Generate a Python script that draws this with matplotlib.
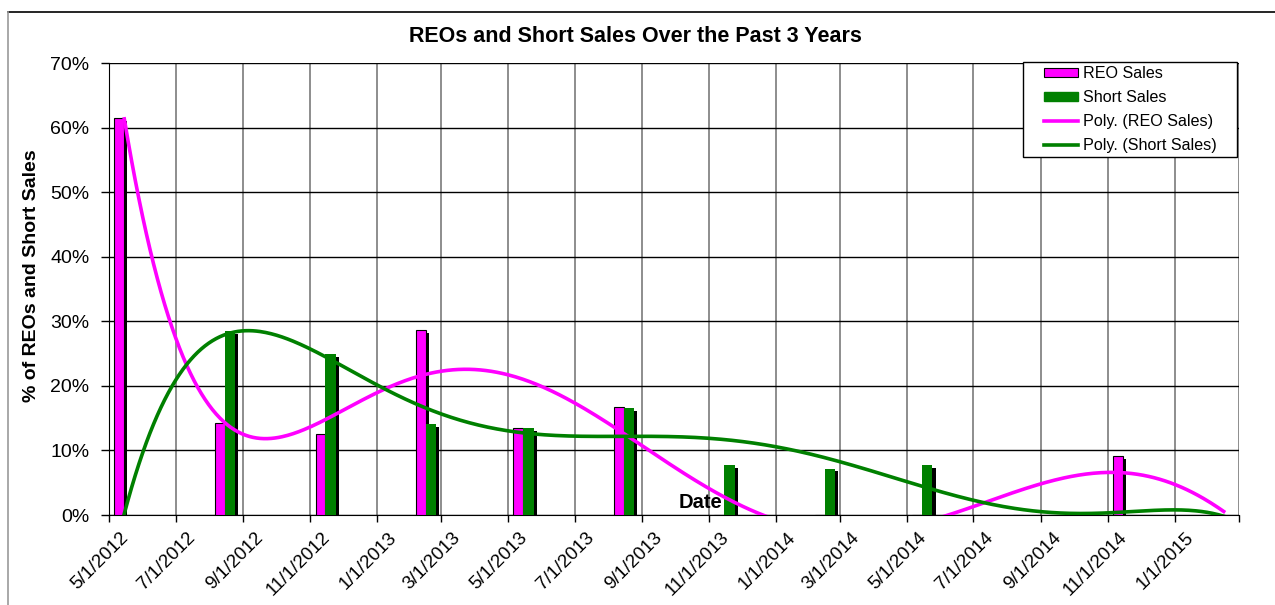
import numpy as np
import pandas as pd
import matplotlib
matplotlib.use("Agg")
import matplotlib.pyplot as plt
import matplotlib.dates as mdates
from matplotlib.lines import Line2D
from matplotlib.patches import Patch, Rectangle
from matplotlib.ticker import PercentFormatter
from matplotlib.transforms import ScaledTranslation

plt.rcParams["font.family"] = ["Liberation Sans", "DejaVu Sans"]
MAGENTA = "#FF00FF"; GREEN = "#008000"; GRID_V = "#7a7a7a"

# quarterly observations (fractions of sales)
dates = ["5/1/2012", "8/1/2012", "11/1/2012", "2/1/2013", "5/1/2013", "8/1/2013",
         "11/1/2013", "2/1/2014", "5/1/2014", "8/1/2014", "11/1/2014", "2/1/2015"]
reo_sales = [0.615, 0.142, 0.125, 0.286, 0.134, 0.167, 0.0, 0.0, 0.0, 0.0, 0.091, 0.0]
short_sales = [0.0, 0.285, 0.249, 0.141, 0.134, 0.165, 0.078, 0.072, 0.078, 0.0, 0.0, 0.0]
tick_dates = ["5/1/2012", "7/1/2012", "9/1/2012", "11/1/2012", "1/1/2013", "3/1/2013",
              "5/1/2013", "7/1/2013", "9/1/2013", "11/1/2013", "1/1/2014", "3/1/2014",
              "5/1/2014", "7/1/2014", "9/1/2014", "11/1/2014", "1/1/2015"]
axis_end = "3/1/2015"

t = mdates.date2num(pd.to_datetime(dates, format="%m/%d/%Y"))
ticks = mdates.date2num(pd.to_datetime(tick_dates, format="%m/%d/%Y"))
x_end = mdates.date2num(pd.to_datetime(axis_end, format="%m/%d/%Y"))
SLOT = 14  # bars sit mid-month on the date axis
reo = np.array(reo_sales); short = np.array(short_sales)

fig = plt.figure(figsize=(12.75, 6.05), dpi=100)
ax = fig.add_axes([109/1275, 1 - 515/605, 1130/1275, 452/605])

# chart-area border (cropped)
fig.add_artist(Line2D([8/1275, 1], [1 - 12/605] * 2, transform=fig.transFigure, color="black", lw=1.2))
fig.add_artist(Line2D([8/1275] * 2, [0, 1 - 12/605], transform=fig.transFigure, color="#999999", lw=1.2))

ax.set_xlim(ticks[0], x_end)
ax.set_ylim(0, 0.7)
ax.set_yticks(np.arange(0, 0.71, 0.1))
ax.yaxis.set_major_formatter(PercentFormatter(1.0, decimals=0))
ax.set_xticks(list(ticks) + [x_end])
ax.set_xticklabels(tick_dates + [""])
ax.set_axisbelow(True)
ax.grid(axis="y", color="black", lw=1)
ax.grid(axis="x", color=GRID_V, lw=1.2)
for s in ("top", "right"):
    ax.spines[s].set_visible(False)
ax.spines["left"].set_color("black"); ax.spines["bottom"].set_color("black")
ax.tick_params(axis="x", length=5, width=1, pad=3, labelsize=13.5, direction="out")
ax.tick_params(axis="y", length=6, width=1, pad=8, labelsize=14, direction="out")
for lab in ax.get_xticklabels():
    lab.set_rotation(45); lab.set_ha("right"); lab.set_va("center")
    lab.set_rotation_mode("anchor")
    lab.set_transform(lab.get_transform() + ScaledTranslation(0.17, -0.09, fig.dpi_scale_trans))

# bars with drop shadow
dx, dy = 2.8, 0.0045
w_reo, w_short = 9.0, 9.5
xc = t + SLOT
ax.bar(xc - w_reo + dx, np.clip(reo - dy, 0, None), w_reo, align="edge", color="black", zorder=2)
ax.bar(xc - w_reo, reo, w_reo, align="edge", color=MAGENTA, edgecolor="black", lw=0.8, zorder=3)
ax.bar(xc + dx, np.clip(short - dy, 0, None), w_short, align="edge", color="black", zorder=3)
ax.bar(xc, short, w_short, align="edge", color=GREEN, lw=0, zorder=3)

# polynomial trend lines (order 6, like Excel)
tt = np.linspace(t[0], t[-1], 600)
p_reo = np.polynomial.Polynomial.fit(t, reo, 6)
p_short = np.polynomial.Polynomial.fit(t, short, 6)
ax.plot(tt + SLOT, p_reo(tt), color=MAGENTA, lw=2.6, zorder=4)
ax.plot(tt + SLOT, p_short(tt), color=GREEN, lw=2.6, zorder=4)

fig.text(635/1275, 1 - 37/605, "REOs and Short Sales Over the Past 3 Years",
         ha="center", va="center", fontsize=15.5, fontweight="bold")
fig.text(32/1275, 1 - 276/605, "% of REOs and Short Sales", rotation=90,
         ha="center", va="center", fontsize=14, fontweight="bold")
fig.text(701/1275, 1 - 502/605, "Date", ha="center", va="center", fontsize=14.5, fontweight="bold")

# legend box drawn like Excel's (wide side padding)
fig.add_artist(Rectangle((1023/1275, 1 - 157/605), 214/1275, 95/605, transform=fig.transFigure,
                         facecolor="white", edgecolor="black", lw=1, zorder=3))
handles = [Patch(facecolor=MAGENTA, edgecolor="black", lw=0.8),
           Patch(facecolor=GREEN, edgecolor=GREEN),
           Line2D([], [], color=MAGENTA, lw=2.6),
           Line2D([], [], color=GREEN, lw=2.6)]
labels = ["REO Sales", "Short Sales", "Poly. (REO Sales)", "Poly. (Short Sales)"]
fig.legend(handles, labels, loc="upper left", bbox_to_anchor=(1044/1275, 1 - 66/605),
           frameon=False, fontsize=11.6, handlelength=2.1, handleheight=0.5,
           handletextpad=0.3, labelspacing=0.56, borderpad=0, borderaxespad=0)

fig.savefig("out.png", dpi=100)
